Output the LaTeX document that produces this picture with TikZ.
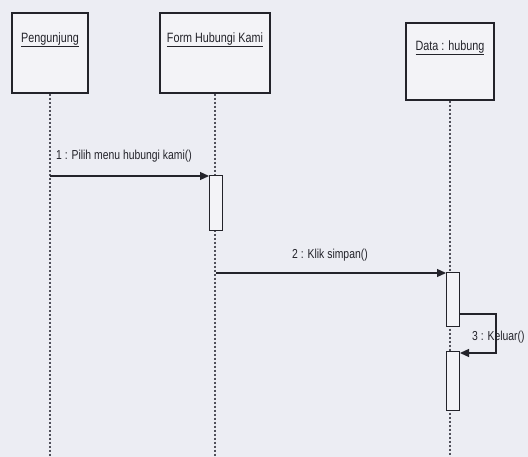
\documentclass[tikz,border=0pt]{standalone}
\usepackage{fontspec}
\setmainfont{Liberation Sans}
\usetikzlibrary{arrows.meta}
\definecolor{bg}{RGB}{236,237,243}
\definecolor{boxbg}{RGB}{243,243,247}
\definecolor{ink}{RGB}{35,35,42}
\definecolor{life}{RGB}{80,80,90}
\newcommand{\narrowtxt}[1]{\scalebox{0.8}[1]{#1}}
\begin{document}
\begin{tikzpicture}[x=1pt,y=-1pt,
  obj/.style={draw=ink, line width=1.2pt, fill=boxbg, inner sep=0pt},
  objtext/.style={font=\fontsize{13.5}{15}\selectfont, text=ink, inner sep=1pt},
  actbox/.style={draw=ink, line width=1pt, fill=boxbg, inner sep=0pt, minimum width=13pt},
  lifeline/.style={draw=life, line width=1.1pt, dash pattern=on 2pt off 2pt},
  msg/.style={draw=ink, line width=1.3pt, -{Triangle[length=9pt,width=8pt]}},
  msglabel/.style={font=\fontsize{13}{15}\selectfont, text=ink, inner sep=1pt}]
\useasboundingbox (0,0) rectangle (528,457);
\fill[bg] (0,0) rectangle (528,457);
% objects
\node[obj, minimum width=76pt, minimum height=80pt] (peng) at (50,53) {};
\node[obj, minimum width=110pt, minimum height=80pt] (form) at (215,53) {};
\node[obj, minimum width=88pt, minimum height=77pt] (data) at (450,61.5) {};
\node[objtext] (pengt) at (50,40) {\narrowtxt{\underline{Pengunjung}}};
\node[objtext] (formt) at (215,40) {\narrowtxt{\underline{Form Hubungi Kami}}};
\node[objtext] (datat) at (450,48) {\narrowtxt{\underline{Data : hubung}}};
% lifeline ends
\coordinate (pengend) at (50,457);
\coordinate (formend) at (215,457);
\coordinate (dataend) at (450,457);
\draw[lifeline] (peng.south) -- (pengend);
\draw[lifeline] (form.south) -- (formend);
\draw[lifeline] (data.south) -- (dataend);
% activations
\node[actbox, minimum height=55pt] (act1) at (216,203) {};
\node[actbox, minimum height=54pt] (act2) at (453,300) {};
\node[actbox, minimum height=58pt] (act3) at (453,381) {};
% message 1
\coordinate (m1s) at (50,176);
\draw[msg] (m1s) -- (act1.west |- m1s);
\node[msglabel, anchor=west] (l1) at (55,156) {\narrowtxt{1 : Pilih menu hubungi kami()}};
% message 2
\coordinate (m2s) at (216,273);
\draw[msg] (m2s) -- (act2.west |- m2s);
\node[msglabel] (l2) at (330,255) {\narrowtxt{2 : Klik simpan()}};
% message 3 (self)
\coordinate (m3a) at (460,314);
\coordinate (m3b) at (496,314);
\coordinate (m3c) at (496,353);
\draw[msg] (act2.east |- m3a) -- (m3b) -- (m3c) -- (act3.east |- m3c);
\node[msglabel, anchor=west] (l3) at (471,337) {\narrowtxt{3 : Keluar()}};
\end{tikzpicture}
\end{document}
